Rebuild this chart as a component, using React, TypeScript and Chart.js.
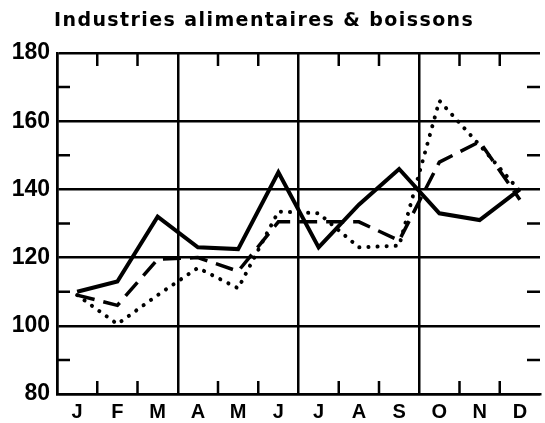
import React, { useEffect, useRef } from "react";
import { Chart, registerables } from "chart.js";

Chart.register(...registerables);

const TITLE = "Industries alimentaires & boissons";
const months = ["J", "F", "M", "A", "M", "J", "J", "A", "S", "O", "N", "D"];
const yTicks = [80, 100, 120, 140, 160, 180];
const minorY = [90, 110, 130, 150, 170];
const solidSeries = [110, 113, 132, 123, 122.5, 145, 123, 135.5, 146, 133, 131, 140];
const dashedSeries = [109, 106, 119.5, 120, 116, 130.5, 130.5, 130.5, 125, 148, 154, 137];
const dottedSeries = [109, 100.5, 109, 117, 111, 133.5, 133, 123, 123.5, 166, 153, 139.5];

const innerTicks = {
  id: "innerTicks",
  beforeDatasetsDraw(chart: any) {
    const { ctx, chartArea, scales } = chart;
    const x = scales.x;
    const y = scales.y;
    ctx.save();
    ctx.strokeStyle = "#000";
    ctx.lineWidth = 2.5;
    const len = 13;
    for (let i = 1; i < months.length; i++) {
      if (i % 3 === 0) continue;
      const px = (x.getPixelForValue(i - 1) + x.getPixelForValue(i)) / 2;
      ctx.beginPath();
      ctx.moveTo(px, chartArea.top);
      ctx.lineTo(px, chartArea.top + len);
      ctx.moveTo(px, chartArea.bottom);
      ctx.lineTo(px, chartArea.bottom - len);
      ctx.stroke();
    }
    for (const v of minorY) {
      const py = y.getPixelForValue(v);
      ctx.beginPath();
      ctx.moveTo(chartArea.left, py);
      ctx.lineTo(chartArea.left + len, py);
      ctx.moveTo(chartArea.right, py);
      ctx.lineTo(chartArea.right - len, py);
      ctx.stroke();
    }
    ctx.restore();
  },
  afterDraw(chart: any) {
    const { ctx } = chart;
    ctx.save();
    ctx.fillStyle = "#000";
    ctx.font = "bold 19px 'DejaVu Sans'";
    const target = 419;
    const w = ctx.measureText(TITLE).width;
    const spacing = Math.max(0, (target - w) / (TITLE.length - 1));
    (ctx as any).letterSpacing = spacing.toFixed(2) + "px";
    ctx.textBaseline = "alphabetic";
    ctx.textAlign = "left";
    ctx.fillText(TITLE, 54, 26);
    ctx.restore();
  },
};

export default function App() {
  const ref = useRef<HTMLCanvasElement | null>(null);
  useEffect(() => {
    if (!ref.current) return;
    const chart = new Chart(ref.current, {
      type: "line",
      data: {
        labels: months,
        datasets: [
          {
            label: "solid",
            data: solidSeries,
            borderColor: "#000",
            borderWidth: 4,
            pointRadius: 0,
            tension: 0,
            borderJoinStyle: "miter",
          },
          {
            label: "dashed",
            data: dashedSeries,
            borderColor: "#000",
            borderWidth: 3.5,
            borderDash: [18, 9],
            pointRadius: 0,
            tension: 0,
          },
          {
            label: "dotted",
            data: dottedSeries,
            borderColor: "#000",
            borderWidth: 4,
            borderDash: [0.1, 9],
            borderCapStyle: "round",
            pointRadius: 0,
            tension: 0,
          },
        ],
      },
      options: {
        responsive: false,
        animation: false,
        layout: { padding: { top: 53, right: 5, left: 0, bottom: 0 } },
        plugins: {
          legend: { display: false },
          title: { display: false },
          tooltip: { enabled: false },
        },
        scales: {
          x: {
            offset: true,
            grid: {
              offset: true,
              drawTicks: false,
              color: (c: any) => (c.index % 3 === 0 ? "#000" : "rgba(0,0,0,0)"),
              lineWidth: 2.5,
            },
            border: { display: true, color: "#000", width: 2.5 },
            ticks: {
              color: "#000",
              padding: 6,
              font: { family: "'Liberation Sans'", size: 20, weight: "bold" },
              autoSkip: false,
              maxRotation: 0,
            },
            afterFit: (s: any) => {
              s.height = 29;
            },
          },
          y: {
            min: 80,
            max: 180,
            afterBuildTicks: (s: any) => {
              s.ticks = yTicks.map((v) => ({ value: v }));
            },
            grid: { color: "#000", lineWidth: 2.5, drawTicks: false },
            border: { display: true, color: "#000", width: 2.5 },
            ticks: {
              color: "#000",
              padding: 7,
              font: { family: "'Liberation Sans'", size: 23, weight: "bold" },
            },
            afterFit: (s: any) => {
              s.width = 57;
            },
          },
        },
      },
      plugins: [innerTicks],
    });
    return () => chart.destroy();
  }, []);
  return (
    <div style={{ position: "fixed", left: 0, top: 0, width: 545, height: 423, background: "#fff" }}>
      <canvas ref={ref} width={545} height={423} />
    </div>
  );
}
